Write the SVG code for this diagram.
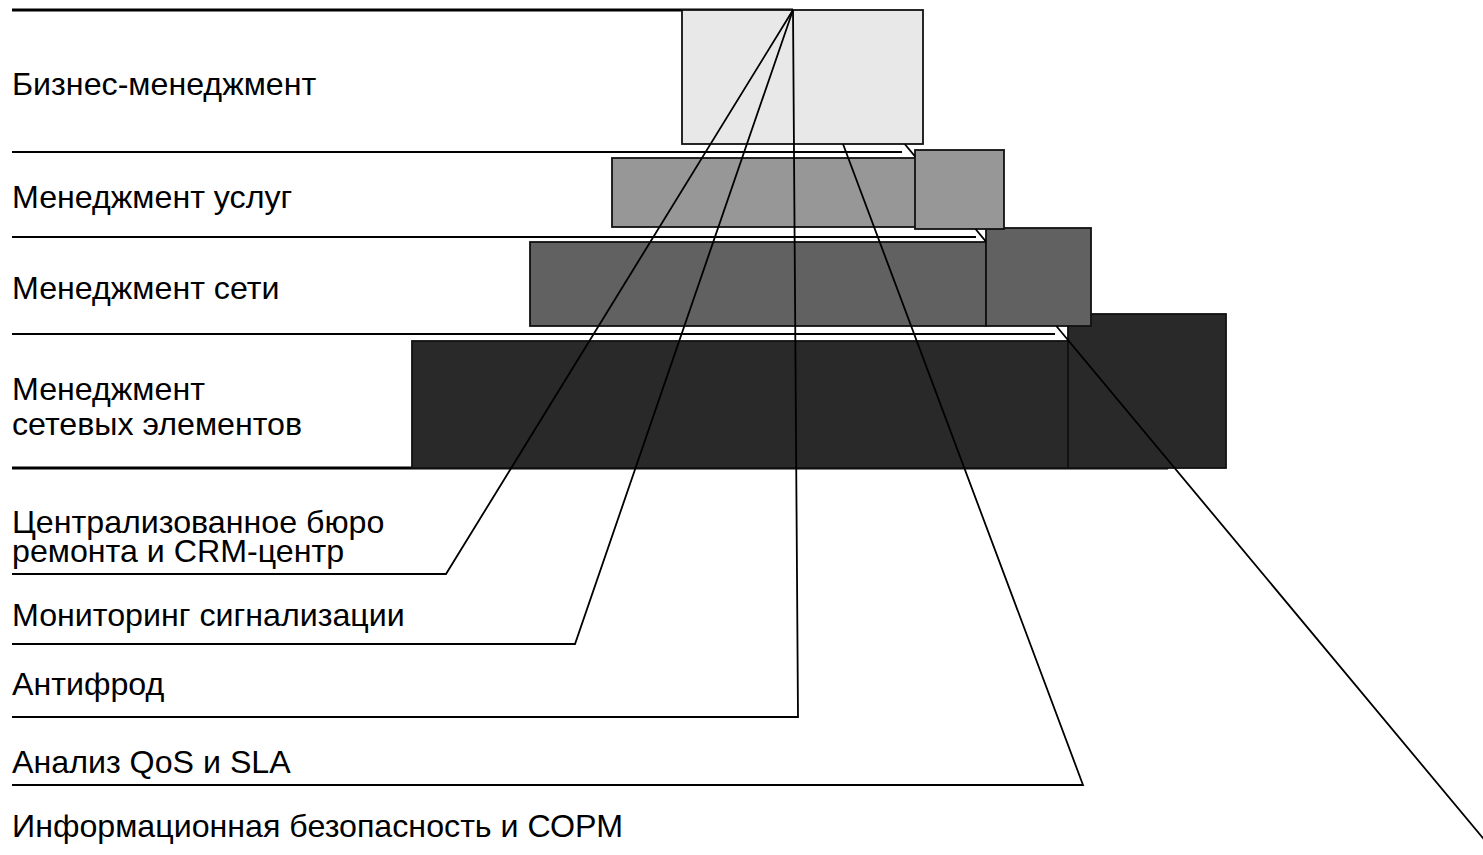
<svg xmlns="http://www.w3.org/2000/svg" width="1483" height="855" viewBox="0 0 1483 855">
<style>
text{font-family:"Liberation Sans",Arial,sans-serif;font-size:32.2px;fill:#000}
.box{stroke:#111;stroke-width:1.8}
.sep{stroke:#000;stroke-width:2;fill:none}
.thick{stroke:#000;stroke-width:3;fill:none}
.con{stroke:#000;stroke-width:1.8;fill:none;stroke-linejoin:miter}
</style>
<rect width="1483" height="855" fill="#fff"/>
<g id="separators">
<line class="thick" x1="12" y1="10" x2="793" y2="10"/>
<line class="sep" x1="12" y1="152" x2="902" y2="152"/>
<line class="sep" x1="12" y1="237" x2="976" y2="237"/>
<line class="sep" x1="12" y1="334" x2="1055" y2="334"/>
<line class="thick" x1="12" y1="468" x2="1168" y2="468"/>
</g>
<g id="level-ne">
<rect class="box" x="412" y="341" width="656" height="127" fill="#292929"/>
<rect class="box" x="1068" y="314" width="158" height="154" fill="#292929"/>
<text x="12" y="400">Менеджмент</text>
<text x="12" y="435">сетевых элементов</text>
</g>
<g id="level-network">
<rect class="box" x="530" y="242" width="456" height="84" fill="#616161"/>
<rect class="box" x="986" y="228" width="105" height="98" fill="#616161"/>
<text x="12" y="299">Менеджмент сети</text>
</g>
<g id="level-service">
<rect class="box" x="612" y="158" width="306" height="69" fill="#979797"/>
<rect class="box" x="915" y="150" width="89" height="79" fill="#979797"/>
<text x="12" y="208">Менеджмент услуг</text>
</g>
<g id="level-business">
<rect class="box" x="682" y="10" width="241" height="134" fill="#e8e8e8"/>
<text x="12" y="95">Бизнес-менеджмент</text>
</g>
<g id="connectors">
<path class="con" d="M12,574 H446 L793,10"/>
<path class="con" d="M12,644 H575 L793,10"/>
<path class="con" d="M12,717 H798 L793,10"/>
<path class="con" d="M12,785 H1083 L843,144"/>
<path class="con" d="M904.7,144 L915,156.4 M975.5,229 L986,241.6 M1056.3,326 L1497,855"/>
</g>
<g id="functions">
<text x="12" y="533">Централизованное бюро</text>
<text x="12" y="562">ремонта и CRM-центр</text>
<text x="12" y="626">Мониторинг сигнализации</text>
<text x="12" y="695">Антифрод</text>
<text x="12" y="773">Анализ QoS и SLA</text>
<text x="12" y="837">Информационная безопасность и СОРМ</text>
</g>
</svg>
